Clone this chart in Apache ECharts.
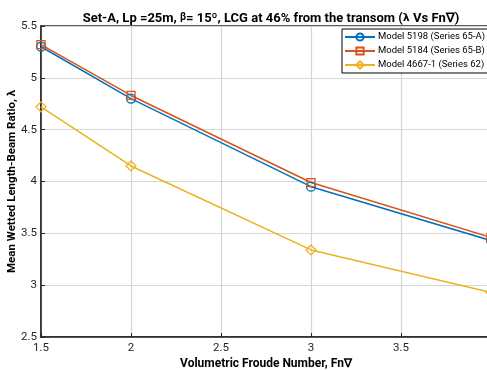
<!DOCTYPE html>
<html><head><meta charset="utf-8">
<script src="https://cdn.jsdelivr.net/npm/echarts@6/dist/echarts.min.js"></script>
<style>html,body{margin:0;padding:0;background:#fff}#c{width:487px;height:370px}</style>
</head><body><div id="c"></div>
<script>
const xValues = [1.5, 2, 3, 4];
const seriesNames = ['Model 5198 (Series 65-A)', 'Model 5184 (Series 65-B)', 'Model 4667-1 (Series 62)'];
const model5198 = [5.30, 4.80, 3.95, 3.43];
const model5184 = [5.32, 4.83, 3.99, 3.46];
const model4667 = [4.72, 4.15, 3.34, 2.93];
const xTicks = [1.5, 2, 2.5, 3, 3.5, 4];
const yTicks = [2.5, 3, 3.5, 4, 4.5, 5, 5.5];

const colors = ['#0072BD', '#D95319', '#EDB120'];
const symbols = ['circle', 'rect', 'diamond'];
const dataSets = [model5198, model5184, model4667];
const font = 'Roboto, "Liberation Sans", sans-serif';

const chart = echarts.init(document.getElementById('c'));
chart.setOption({
  animation: false,
  title: {
    text: '{b|Set-A, Lp =25m, }{s|β}{b|= 15º, LCG at 46% from the transom (}{l|λ}{b| Vs Fn∇)}',
    left: 266, textAlign: 'center', top: 7,
    textStyle: {
      rich: {
        b: {fontFamily: font, fontWeight: 'bold', fontSize: 13, color: '#000'},
        s: {fontFamily: font, fontSize: 10, color: '#000', verticalAlign: 'top', padding: [0,0,3,0]},
        l: {fontFamily: 'DejaVu Sans', fontSize: 11, color: '#000'}
      }
    }
  },
  legend: {
    orient: 'vertical', left: 342, top: 29,
    itemWidth: 30, itemHeight: 9, itemGap: 4,
    padding: [3, 6, 3, 2],
    borderColor: '#000', borderWidth: 1, backgroundColor: '#fff',
    textStyle: {fontFamily: font, fontSize: 9.5, color: '#000', padding: [0,0,0,-2]},
    data: seriesNames
  },
  grid: {left: 41, top: 26, right: -4, bottom: 33, containLabel: false, outerBoundsMode: 'none',
    show: true, borderColor: '#262626', borderWidth: 1.5},
  xAxis: {
    type: 'value', min: 1.5, max: 4, interval: 0.5,
    name: 'Volumetric Froude Number, Fn∇', nameLocation: 'middle', nameGap: 21, nameMoveOverlap: false,
    nameTextStyle: {fontFamily: font, fontWeight: 'bold', fontSize: 12, color: '#000'},
    axisLine: {show: true, lineStyle: {color: '#262626', width: 1.5}},
    axisTick: {show: true, inside: true, length: 4, lineStyle: {color: '#262626'}},
    axisLabel: {fontFamily: font, fontSize: 11.5, color: '#262626', margin: 5,
      formatter: v => xTicks.includes(v) ? String(v) : ''},
    splitLine: {show: true, lineStyle: {color: '#d6d6d6', width: 1.2}}
  },
  yAxis: {
    type: 'value', min: 2.5, max: 5.5, interval: 0.5,
    name: 'Mean Wetted Length-Beam Ratio, λ', nameLocation: 'middle', nameGap: 23, nameMoveOverlap: false,
    nameTextStyle: {fontFamily: font, fontWeight: 'bold', fontSize: 11.5, color: '#000'},
    axisLine: {show: true, lineStyle: {color: '#262626', width: 1.5}},
    axisTick: {show: true, inside: true, length: 4, lineStyle: {color: '#262626'}},
    axisLabel: {fontFamily: font, fontSize: 11.5, color: '#262626', margin: 4,
      formatter: v => yTicks.includes(v) ? String(v) : ''},
    splitLine: {show: true, lineStyle: {color: '#d6d6d6', width: 1.2}}
  },
  series: seriesNames.map((n, i) => ({
    name: n, type: 'line',
    data: xValues.map((x, j) => [x, dataSets[i][j]]),
    symbol: symbols[i], symbolSize: i === 2 ? 10 : (i === 1 ? 8 : 9), showAllSymbol: true,
    lineStyle: {color: colors[i], width: 1.5},
    itemStyle: {color: 'rgba(255,255,255,0)', borderColor: colors[i], borderWidth: 1.3},
    emphasis: {disabled: true}
  }))
});
</script></body></html>
